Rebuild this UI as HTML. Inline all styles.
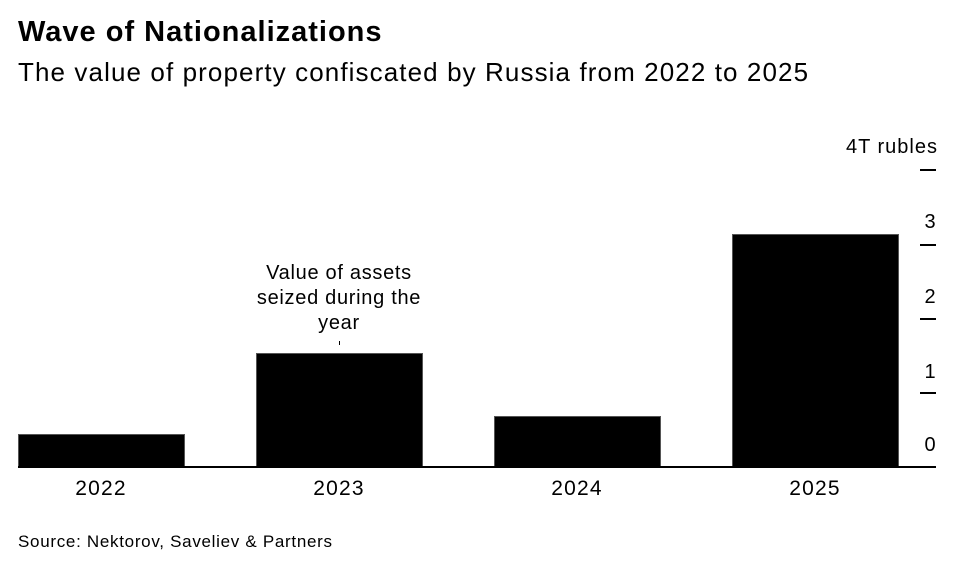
<!DOCTYPE html>
<html><head><style>
body{margin:0;width:967px;height:565px;background:#fff;font-family:"Liberation Sans",Arial,sans-serif;color:#000;position:relative;overflow:hidden}
.a{position:absolute;white-space:nowrap}
.bar{position:absolute;background:#000;border:1px solid #555;box-sizing:border-box}
.tk{position:absolute;left:920px;width:16px;height:2px;background:#000}
.yl{position:absolute;width:30px;left:915px;text-align:center;font-size:20px}
.xl{position:absolute;width:166px;text-align:center;font-size:21px;letter-spacing:1.2px;top:477px}
</style></head><body>
<div class="a" style="left:18px;top:16px;font-size:29px;font-weight:bold;letter-spacing:1px">Wave of Nationalizations</div>
<div class="a" style="left:18px;top:57px;font-size:26px;letter-spacing:1.1px">The value of property confiscated by Russia from 2022 to 2025</div>
<div class="a" style="right:29px;top:136px;font-size:20px;letter-spacing:1px">4T rubles</div>
<div class="tk" style="top:169px"></div>
<div class="tk" style="top:244px"></div>
<div class="tk" style="top:318px"></div>
<div class="tk" style="top:392px"></div>
<div class="yl" style="top:211px">3</div>
<div class="yl" style="top:286px">2</div>
<div class="yl" style="top:361px">1</div>
<div class="yl" style="top:434px">0</div>
<div class="bar" style="left:18px;top:434px;width:167px;height:34px"></div>
<div class="bar" style="left:256px;top:353px;width:167px;height:115px"></div>
<div class="bar" style="left:494px;top:416px;width:167px;height:52px"></div>
<div class="bar" style="left:732px;top:234px;width:167px;height:234px"></div>
<div class="a" style="left:18px;top:466px;width:918px;height:2px;background:#000"></div>
<div class="a" style="left:339px;top:341px;width:1px;height:4px;background:#000"></div>
<div class="a" style="left:244px;top:261px;width:190px;text-align:center;font-size:20px;letter-spacing:0.7px;line-height:25px;white-space:normal">Value of assets seized during the year</div>
<div class="xl" style="left:18px">2022</div>
<div class="xl" style="left:256px">2023</div>
<div class="xl" style="left:494px">2024</div>
<div class="xl" style="left:732px">2025</div>
<div class="a" style="left:18px;top:532px;font-size:17px;letter-spacing:0.7px">Source: Nektorov, Saveliev &amp; Partners</div>
</body></html>
